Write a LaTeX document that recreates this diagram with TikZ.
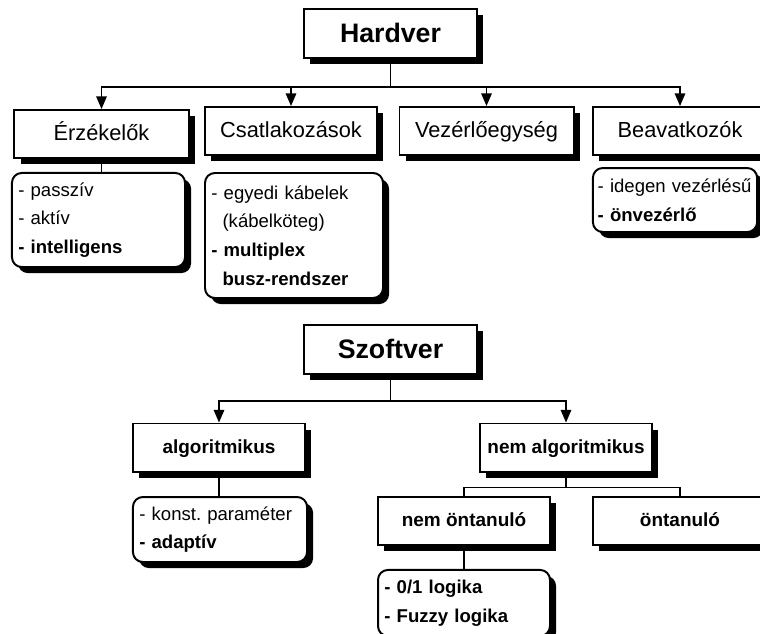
\documentclass[tikz,border=0pt]{standalone}
\usepackage{fontspec}
\setmainfont{Liberation Sans}
\usetikzlibrary{arrows.meta,positioning,shadows}

\begin{document}
\begin{tikzpicture}[x=0.025cm, y=-0.025cm,
	shade/.style={drop shadow={shadow xshift=4.3pt, shadow yshift=-4.3pt, fill=black, opacity=1}},
	title/.style={draw, line width=1.4pt, fill=white, shade, minimum width=4.33cm, minimum height=1.23cm, text height=14pt, text depth=1pt, font=\fontsize{19}{22}\selectfont\bfseries},
	hwbox/.style={draw, line width=1.4pt, fill=white, shade, minimum width=4.35cm, minimum height=1.2cm, text height=11.5pt, text depth=2pt, font=\fontsize{15.5}{18}\selectfont},
	swbox/.style={hwbox, minimum width=4.3cm, text height=10pt, text depth=2pt, font=\fontsize{13.5}{16}\selectfont\bfseries},
	list/.style={draw, line width=1.4pt, fill=white, shade, rounded corners=7pt, align=left, inner xsep=4.5pt, font=\fontsize{13.2}{20.5}\selectfont},
	arr/.style={line width=1pt, -{Triangle[length=9pt,width=7.5pt]}},
	line/.style={line width=1pt}]
	\clip (0,0) rectangle (760,633);
	
	\node[title] (hw) at (390.5,33.5) {Hardver};
	\node[hwbox] (erz) at (101.5,134) {Érzékelők};
	\node[hwbox, minimum width=4.3cm] (csat) at (291,131) {Csatlakozások};
	\node[hwbox] (vez) at (486.5,131) {Vezérlőegység};
	\node[hwbox] (bea) at (680,131) {Beavatkozók};
	
	\node[list, text width=114.1pt, minimum height=66.9pt] (erzl) at (98.5,220) {- passzív\\- aktív\\\textbf{- intelligens}};
	\node[list, text width=117.6pt, minimum height=88.9pt] (csatl) at (294,235.5) {- egyedi kábelek\\\hspace*{8pt}(kábelköteg)\\\textbf{- multiplex}\\\hspace*{8pt}\textbf{busz-rendszer}};
	\node[list, inner xsep=3.4pt, text width=110pt, minimum height=45.5pt] (beal) at (675,200) {- idegen vezérlésű\\\textbf{- önvezérlő}};
	
	\draw[arr] (hw.south) -- ++(0,28) -| (erz.north);
	\draw[arr] (hw.south) -- ++(0,28) -| (csat.north);
	\draw[arr] (hw.south) -- ++(0,28) -| (vez.north);
	\draw[arr] (hw.south) -- ++(0,28) -| (bea.north);
	\draw[line] (erz.south) -- (erz.south |- erzl.north);
	
	\node[title] (sw) at (390.5,349.5) {Szoftver};
	\node[swbox] (alg) at (219,447.5) {algoritmikus};
	\node[swbox] (nalg) at (566,447.5) {nem algoritmikus};
	\node[swbox] (nont) at (464,521) {nem öntanuló};
	\node[swbox, minimum width=4.35cm] (ont) at (680,521) {öntanuló};
	
	\node[list, text width=114.8pt, minimum height=46.2pt] (algl) at (220,529.5) {- konst.\ paraméter\\\textbf{- adaptív}};
	\node[list, text width=113.3pt, minimum height=47pt] (nontl) at (464,603) {\textbf{- 0/1 logika}\\\textbf{- Fuzzy logika}};
	
	\draw[arr] (sw.south) -- ++(0,26) -| (alg.north);
	\draw[arr] (sw.south) -- ++(0,26) -| (nalg.north);
	\draw[line] (alg.south) -- (alg.south |- algl.north);
	\draw[line] (nalg.south) -- ++(0,15) -| (nont.north);
	\draw[line] (nalg.south) -- ++(0,15) -| (ont.north);
	\draw[line] (nont.south) -- (nont.south |- nontl.north);
\end{tikzpicture}
\end{document}
